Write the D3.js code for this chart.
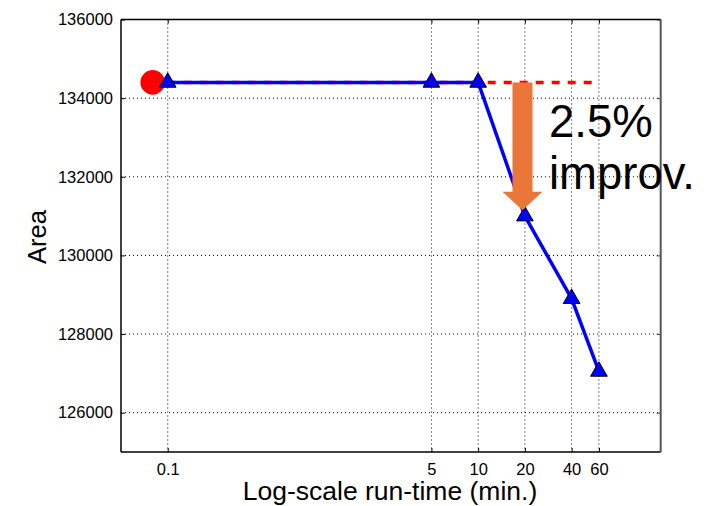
<!DOCTYPE html>
<html>
<head>
<meta charset="utf-8">
<script src="https://cdn.jsdelivr.net/npm/d3@7"></script>
<style>
  html, body { margin: 0; padding: 0; background: #fff; }
  svg { display: block; font-family: "Liberation Sans", Arial, Helvetica, sans-serif; }
</style>
</head>
<body>
<svg id="chart" width="718" height="506"></svg>
<script>
// ---- data ----
const runTimes = [0.1, 5, 10, 20, 40, 60];
const areaValues = [134400, 134400, 134400, 131000, 128900, 127050];
const baselinePoint = [0.08, 134400];
const baselineDash = [[0.08, 134400], [60, 134400]];
const xTickValues = [0.1, 5, 10, 20, 40, 60];
const xTickLabels = ["0.1", "5", "10", "20", "40", "60"];
const yTickValues = [126000, 128000, 130000, 132000, 134000, 136000];
const arrowX = 19.3;
const arrowFrom = 134400;
const arrowTo = 131150;
const annotationLines = ["2.5%", "improv."];
const xLabel = "Log-scale run-time (min.)";
const yLabel = "Area";

// ---- layout ----
const svg = d3.select("#chart");
const L = 121, T = 19.5, R = 660.7, B = 452;
const x = d3.scaleLog().domain([0.05, 150]).range([L, R]);
const y = d3.scaleLinear().domain([125000, 136000]).range([B, T]);

// grid
const grid = svg.append("g");
grid.selectAll(".gx").data(xTickValues).join("line")
  .attr("x1", d => x(d)).attr("x2", d => x(d)).attr("y1", T).attr("y2", B)
  .attr("stroke", "#000").attr("stroke-width", 1).attr("stroke-dasharray", "1,3");
grid.selectAll(".gy").data(yTickValues).join("line")
  .attr("x1", L).attr("x2", R).attr("y1", d => y(d)).attr("y2", d => y(d))
  .attr("stroke", "#000").attr("stroke-width", 1).attr("stroke-dasharray", "1,3");

// axes
const xAxis = d3.axisBottom(x).tickValues(xTickValues)
  .tickFormat((d, i) => xTickLabels[i]).tickSizeInner(-4).tickSizeOuter(0).tickPadding(11);
const yAxis = d3.axisLeft(y).tickValues(yTickValues)
  .tickFormat(d3.format("d")).tickSizeInner(-4).tickSizeOuter(0).tickPadding(8);

const gx = svg.append("g").attr("transform", `translate(0,${B})`).call(xAxis);
const gy = svg.append("g").attr("transform", `translate(${L},0)`).call(yAxis);
[gx, gy].forEach(g => {
  g.select(".domain").remove();
  g.selectAll("text").attr("font-size", 16.5).attr("fill", "#000")
    .attr("font-family", "Liberation Sans, Arial, sans-serif");
  g.selectAll("line").attr("stroke", "#000");
});
// right-side ticks
svg.append("g").attr("transform", `translate(${R},0)`)
  .call(d3.axisRight(y).tickValues(yTickValues).tickSizeInner(-4).tickSizeOuter(0).tickFormat(""))
  .call(g => g.select(".domain").remove())
  .selectAll("line").attr("stroke", "#444");
// top ticks
svg.append("g").attr("transform", `translate(0,${T})`)
  .call(d3.axisTop(x).tickValues(xTickValues).tickSizeInner(-4).tickSizeOuter(0).tickFormat(""))
  .call(g => g.select(".domain").remove())
  .selectAll("line").attr("stroke", "#000");

// frame
svg.append("line").attr("x1", L).attr("x2", R).attr("y1", T).attr("y2", T).attr("stroke", "#000").attr("stroke-width", 1.5);
svg.append("line").attr("x1", L).attr("x2", R).attr("y1", B).attr("y2", B).attr("stroke", "#000").attr("stroke-width", 1.5);
svg.append("line").attr("x1", L).attr("x2", L).attr("y1", T).attr("y2", B).attr("stroke", "#000").attr("stroke-width", 1.5);
svg.append("line").attr("x1", R).attr("x2", R).attr("y1", T).attr("y2", B).attr("stroke", "#555").attr("stroke-width", 2);

// red dashed baseline
const line = d3.line().x(d => x(d[0])).y(d => y(d[1]));
svg.append("path").datum(baselineDash).attr("d", line)
  .attr("fill", "none").attr("stroke", "#ff0000").attr("stroke-width", 3.5)
  .attr("stroke-dasharray", "8,8").attr("stroke-dashoffset", 1);

// blue series line
const pts = runTimes.map((t, i) => [t, areaValues[i]]);
svg.append("path").datum(pts).attr("d", line)
  .attr("fill", "none").attr("stroke", "#0000ff").attr("stroke-width", 3.5).attr("stroke-linejoin", "round");

// red baseline circle
svg.append("circle").attr("cx", x(baselinePoint[0])).attr("cy", y(baselinePoint[1])).attr("r", 12.3).attr("fill", "#ff0000");

// triangle markers
const tri = d3.symbol().type(d3.symbolTriangle).size(120);
svg.selectAll(".tri").data(pts).join("path")
  .attr("d", tri)
  .attr("transform", d => `translate(${x(d[0])},${y(d[1])})`)
  .attr("fill", "#0000ff").attr("stroke", "#000").attr("stroke-width", 1);

// orange arrow
const ax = x(arrowX), ay0 = y(arrowFrom), ay1 = y(arrowTo);
const shaftW = 20, headW = 40, headH = 18.5;
const arrowPath = d3.path();
arrowPath.moveTo(ax - shaftW / 2, ay0);
arrowPath.lineTo(ax + shaftW / 2, ay0);
arrowPath.lineTo(ax + shaftW / 2, ay1 - headH);
arrowPath.lineTo(ax + headW / 2, ay1 - headH);
arrowPath.lineTo(ax, ay1);
arrowPath.lineTo(ax - headW / 2, ay1 - headH);
arrowPath.lineTo(ax - shaftW / 2, ay1 - headH);
arrowPath.closePath();
svg.append("path").attr("d", arrowPath.toString()).attr("fill", "#EA763A");

// annotation text
svg.append("text").attr("x", 549).attr("y", 136.5).attr("font-size", 45.5).attr("fill", "#000").text(annotationLines[0]);
svg.append("text").attr("x", 549).attr("y", 188.5).attr("font-size", 45.5).attr("fill", "#000").text(annotationLines[1]);

// axis labels
svg.append("text").attr("x", 390).attr("y", 500).attr("text-anchor", "middle")
  .attr("font-size", 26.5).attr("fill", "#000").text(xLabel);
svg.append("text").attr("transform", "translate(46,237) rotate(-90)").attr("text-anchor", "middle")
  .attr("font-size", 25.5).attr("fill", "#000").text(yLabel);
</script>
</body>
</html>
